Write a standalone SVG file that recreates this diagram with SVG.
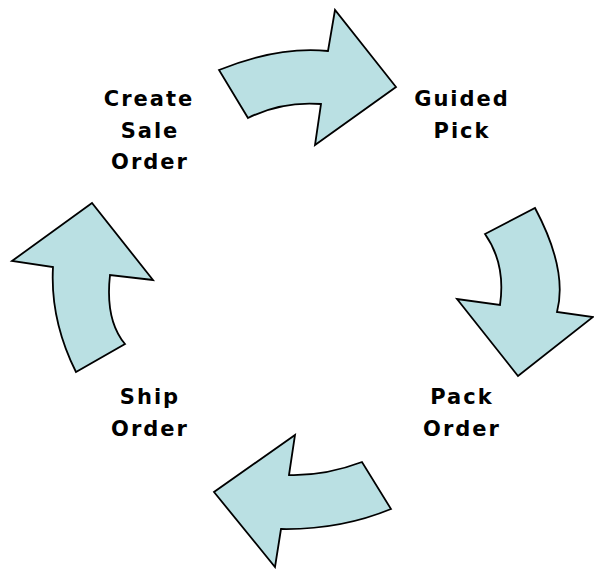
<svg xmlns="http://www.w3.org/2000/svg" width="594" height="569" viewBox="0 0 594 569">
<style>
.arrow{fill:#BAE0E3;stroke:#000;stroke-width:1.8;stroke-linejoin:miter}
.lbl{font-family:"DejaVu Sans",sans-serif;font-weight:bold;font-size:21px;letter-spacing:2px;fill:#000;text-anchor:middle}
</style>
<rect width="594" height="569" fill="#fff"/>
<g id="connectors">
<path class="arrow" d="M219,70 Q278,46 328,51 L335,10 L396,87 L315,145 L321,104 Q282,101 248,118 Z"/>
<path class="arrow" d="M535,208 Q568,270 557,312 L593,317 L518,376 L457,299 L500,305 Q506,264 485,234 Z"/>
<path class="arrow" d="M391,509 Q340,530 281,529 L275,567 L214,492 L295,435 L289,475 Q325,476 362,462 Z"/>
<path class="arrow" d="M76,372 Q50,320 53,267 L12,261 L92,203 L153,280 L110,275 Q105,320 125,344 Z"/>
</g>
<g id="create-sale-order">
<text class="lbl" x="149" y="106">Create</text>
<text class="lbl" x="150" y="138">Sale</text>
<text class="lbl" x="150" y="169">Order</text>
</g>
<g id="guided-pick">
<text class="lbl" x="462" y="106">Guided</text>
<text class="lbl" x="462" y="138">Pick</text>
</g>
<g id="pack-order">
<text class="lbl" x="462" y="404">Pack</text>
<text class="lbl" x="462" y="436">Order</text>
</g>
<g id="ship-order">
<text class="lbl" x="150" y="404">Ship</text>
<text class="lbl" x="150" y="436">Order</text>
</g>
</svg>
